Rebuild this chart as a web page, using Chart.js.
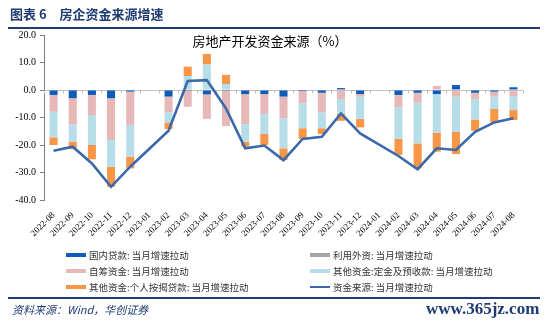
<!DOCTYPE html>
<html>
<head>
<meta charset="utf-8">
<script src="https://cdn.jsdelivr.net/npm/chart.js@4.4.1/dist/chart.umd.min.js"></script>
<style>
  html, body { margin: 0; padding: 0; background: #fff; }
  #wrap { position: relative; width: 550px; height: 322px; overflow: hidden; background: #fff; }
  #c { position: absolute; left: 0; top: 0; }
  .hdr { position: absolute; left: 10px; top: 6px; font: bold 13px "Noto Sans CJK SC", sans-serif; color: #1F3B73; white-space: pre; line-height: 16px; }
  .rule { position: absolute; left: 8px; width: 532px; height: 2px; background: #1F3B73; }
  .ctitle { position: absolute; left: 150px; width: 240px; top: 33px; text-align: center; font: 13px "Noto Sans CJK SC", sans-serif; color: #000; line-height: 16px; }
  .lg { position: absolute; font: 9.5px "Noto Sans CJK SC", sans-serif; color: #333; line-height: 12px; white-space: nowrap; }
  .sw { position: absolute; width: 20px; height: 4px; }
  .src { position: absolute; left: 12px; top: 302px; font: italic 11px "Noto Sans CJK SC", sans-serif; color: #1F3B73; line-height: 14px; }
  .wm { position: absolute; left: 426px; top: 300px; font: bold 17px "Liberation Serif", serif; color: #1F3B73; line-height: 18px; }
</style>
</head>
<body>
<div id="wrap">
  <canvas id="c" width="550" height="322"></canvas>
  <div class="hdr">图表 6　房企资金来源增速</div>
  <div class="rule" style="top:27px"></div>
  <div class="ctitle">房地产开发资金来源（%）</div>
  <div id="legend"></div>
  <div class="rule" style="top:297px"></div>
  <div class="src">资料来源：Wind，华创证券</div>
  <div class="wm">www.365jz.com</div>
</div>
<script>
// ---- data ----
const categories = ['2022-08','2022-09','2022-10','2022-11','2022-12','2023-01','2023-02','2023-03','2023-04','2023-05','2023-06','2023-07','2023-08','2023-09','2023-10','2023-11','2023-12','2024-01','2024-02','2024-03','2024-04','2024-05','2024-06','2024-07','2024-08'];
const domesticLoans = [-1.8,-3.0,-1.8,-3.0,-0.6,null,-2.4,-0.3,-1.6,-0.3,-1.5,-1.5,-2.4,-0.4,-1.0,0.7,-1.5,null,-1.8,-1.0,-1.5,1.8,-1.0,-0.6,1.0];
const foreignCapital = [0,0,0,0,0,null,0,0,0,0,0,0,0,0,0,0,0,null,0,0,0,0,0,0,0];
const selfRaised = [-6.1,-9.5,-7.3,-15.2,-12.1,null,-5.7,-5.8,-8.9,-12.8,-10.9,-7.2,-7.9,-4.4,-7.1,-3.3,-0.9,null,-4.5,-3.6,1.5,-2.4,-2.3,-1.8,-2.2];
const depositsAdvance = [-9.3,-6.3,-10.9,-9.7,-11.5,null,-3.7,5.1,9.3,2.1,-6.4,-7.3,-10.9,-9.1,-5.8,-5.4,-8.1,null,-11.5,-14.8,-14.0,-12.8,-7.4,-4.5,-5.1];
const mortgageLoans = [-2.8,-2.7,-5.2,-7.3,-4.3,null,-2.4,3.4,3.8,3.4,-1.8,-4.0,-4.3,-3.9,-2.1,-2.5,-3.1,null,-5.8,-9.1,-6.9,-8.1,-4.1,-4.9,-3.6];
const totalFunds = [-22.1,-20.6,-26.7,-35.2,-27.9,null,-14.8,3.3,3.6,-6.7,-21.2,-20.2,-25.5,-17.8,-17.0,-8.5,-15.8,null,-24.0,-28.8,-21.2,-21.8,-15.2,-11.8,-10.3];
const yTicks = [20,10,0,-10,-20,-30,-40];
const seriesNames = ['国内贷款: 当月增速拉动','利用外资: 当月增速拉动','自筹资金: 当月增速拉动','其他资金:定金及预收款: 当月增速拉动','其他资金:个人按揭贷款: 当月增速拉动','资金来源: 当月增速拉动'];
const seriesColors = ['#0F5CB8','#A5A5A5','#E6B9B8','#B7DEE8','#F79646','#3B69AA'];

// ---- legend (HTML) ----
const legendPos = [[66,249],[310,249],[66,265],[310,265],[66,281],[310,281]];
const legendOrder = [0,1,2,3,4,5];
const lg = document.getElementById('legend');
legendOrder.forEach((si, k) => {
  const [x, y] = legendPos[k];
  const sw = document.createElement('div');
  sw.className = 'sw';
  sw.style.left = x + 'px';
  sw.style.background = seriesColors[si];
  if (si === 5) { sw.style.top = (y + 5) + 'px'; sw.style.height = '2px'; }
  else { sw.style.top = (y + 4) + 'px'; }
  lg.appendChild(sw);
  const t = document.createElement('div');
  t.className = 'lg';
  t.style.left = (x + 23) + 'px';
  t.style.top = y + 'px';
  t.textContent = seriesNames[si];
  lg.appendChild(t);
});

// ---- zero line with tick marks ----
const zeroLine = {
  id: 'zeroLine',
  beforeDatasetsDraw(chart) {
    const { ctx, chartArea, scales } = chart;
    const y0 = Math.round(scales.y.getPixelForValue(0)) + 0.5;
    ctx.save();
    ctx.strokeStyle = '#BFBFBF';
    ctx.lineWidth = 1;
    ctx.beginPath();
    ctx.moveTo(chartArea.left, y0);
    ctx.lineTo(chartArea.right, y0);
    const n = categories.length;
    for (let i = 0; i <= n; i++) {
      const x = Math.round(chartArea.left + (chartArea.right - chartArea.left) * i / n) + 0.5;
      ctx.moveTo(x, y0);
      ctx.lineTo(x, y0 + 3);
    }
    ctx.stroke();
    ctx.restore();
  }
};

const barCommon = { type: 'bar', stack: 'bars', categoryPercentage: 1.0, barPercentage: 0.42, borderWidth: 0, order: 2 };
const chart = new Chart(document.getElementById('c'), {
  data: {
    labels: categories,
    datasets: [
      { ...barCommon, label: seriesNames[0], data: domesticLoans, backgroundColor: seriesColors[0] },
      { ...barCommon, label: seriesNames[1], data: foreignCapital, backgroundColor: seriesColors[1] },
      { ...barCommon, label: seriesNames[2], data: selfRaised, backgroundColor: seriesColors[2] },
      { ...barCommon, label: seriesNames[3], data: depositsAdvance, backgroundColor: seriesColors[3] },
      { ...barCommon, label: seriesNames[4], data: mortgageLoans, backgroundColor: seriesColors[4] },
      { type: 'line', stack: 'line', label: seriesNames[5], data: totalFunds, borderColor: seriesColors[5], backgroundColor: seriesColors[5], borderWidth: 2.6, pointRadius: 0, tension: 0, spanGaps: true, order: 1, borderJoinStyle: 'miter' }
    ]
  },
  options: {
    responsive: false,
    animation: false,
    devicePixelRatio: 1,
    layout: { padding: { left: 0, top: 35, right: 27, bottom: 0 } },
    plugins: { legend: { display: false }, title: { display: false }, tooltip: { enabled: false } },
    scales: {
      x: {
        stacked: true,
        grid: { display: false },
        border: { display: false },
        ticks: { autoSkip: false, maxRotation: 45, minRotation: 45, color: '#000', padding: 2, font: { family: 'Liberation Serif', size: 9 } },
        afterFit(scale) { scale.height = 122; }
      },
      y: {
        stacked: true,
        min: -40, max: 20,
        afterBuildTicks(scale) { scale.ticks = yTicks.map(v => ({ value: v })); },
        ticks: { color: '#000', padding: 4, font: { family: 'Liberation Serif', size: 10 }, callback: v => Number(v).toFixed(1) },
        grid: { drawOnChartArea: false, drawTicks: true, tickLength: 4, color: '#7F7F7F' },
        border: { display: true, color: '#7F7F7F', width: 1 },
        afterFit(scale) { scale.width = 44; }
      }
    }
  },
  plugins: [zeroLine]
});
</script>
</body>
</html>
